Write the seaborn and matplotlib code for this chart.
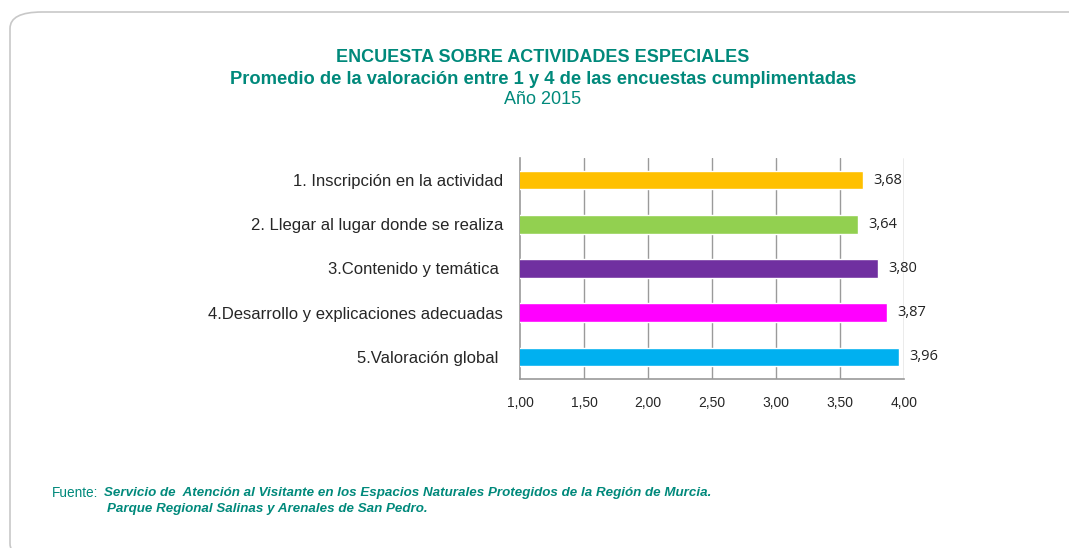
import matplotlib.pyplot as plt
import seaborn as sns
import pandas as pd
from matplotlib.patches import FancyBboxPatch
from matplotlib.ticker import FixedLocator

categorias = ["1. Inscripción en la actividad",
              "2. Llegar al lugar donde se realiza",
              "3.Contenido y temática ",
              "4.Desarrollo y explicaciones adecuadas",
              "5.Valoración global "]
valores = [3.68, 3.64, 3.80, 3.87, 3.96]
colores = ["#FFC000", "#92D050", "#7030A0", "#FF00FF", "#00B0F0"]
ticks_x = [1.0, 1.5, 2.0, 2.5, 3.0, 3.5, 4.0]

df = pd.DataFrame({"categoria": categorias, "valor": valores})

sns.set_style("white")
plt.rcParams["font.family"] = ["Liberation Sans", "DejaVu Sans"]
teal = "#00897B"
gris = "#9A9A9A"

fig = plt.figure(figsize=(10.69, 5.48), dpi=100)
W, H = 1069, 548

# marco redondeado
marco = FancyBboxPatch((10 / W, 1 - 560 / H), 1100 / W, 548 / H,
                       boxstyle="round,pad=0,rounding_size=0.03",
                       transform=fig.transFigure, facecolor="none",
                       edgecolor="#C8C8C8", linewidth=1.2, clip_on=False)
fig.patches.append(marco)

ax = fig.add_axes([520 / W, 1 - 379 / H, 384 / W, 221 / H])
ax.grid(False)
for t in ticks_x[1:]:
    ax.axvline(t, color=gris, linewidth=1, zorder=0)

sns.barplot(data=df, x="valor", y="categoria", hue="categoria",
            palette=colores, legend=False, orient="h", width=0.42,
            ax=ax, saturation=1, errorbar=None, zorder=3)

ax.set_xlim(1.0, 4.0)
ax.set_ylim(4.5, -0.5)
ax.set_xticks(ticks_x)
ax.set_xticklabels([f"{t:.2f}".replace(".", ",") for t in ticks_x], fontsize=10)
ax.set_xlabel("")
ax.set_ylabel("")
for s in ["top", "right"]:
    ax.spines[s].set_visible(False)
for s in ["left", "bottom"]:
    ax.spines[s].set_color(gris)
    ax.spines[s].set_linewidth(1.2)

ax.tick_params(axis="x", direction="out", length=5, color=gris, pad=7)
ax.tick_params(axis="y", which="major", length=0, pad=12, labelsize=12)
ax.yaxis.set_minor_locator(FixedLocator([i - 0.5 for i in range(len(categorias) + 1)]))
ax.tick_params(axis="y", which="minor", direction="out", length=5, color=gris)

for i, v in enumerate(valores):
    ax.text(v + 0.08, i, f"{v:.2f}".replace(".", ","), va="center", ha="left",
            fontsize=10.5, family="Open Sans", color="#222222")

cx = 0.508
fig.text(cx, 1 - 57 / H, "ENCUESTA SOBRE ACTIVIDADES ESPECIALES", ha="center",
         va="center", color=teal, fontsize=13, fontweight="bold")
fig.text(cx, 1 - 79 / H, "Promedio de la valoración entre 1 y 4 de las encuestas cumplimentadas",
         ha="center", va="center", color=teal, fontsize=13.2, fontweight="bold")
fig.text(cx, 1 - 100 / H, "Año 2015", ha="center", va="center", color=teal, fontsize=13)

fig.text(52 / W, 1 - 493 / H, "Fuente:", ha="left", va="center", color=teal, fontsize=9.8)
fig.text(104 / W, 1 - 493 / H,
         "Servicio de  Atención al Visitante en los Espacios Naturales Protegidos de la Región de Murcia.",
         ha="left", va="center", color=teal, fontsize=9.6, fontweight="bold", style="italic")
fig.text(107 / W, 1 - 509 / H, "Parque Regional Salinas y Arenales de San Pedro.",
         ha="left", va="center", color=teal, fontsize=9.6, fontweight="bold", style="italic")

fig.savefig("out.png", dpi=100)
